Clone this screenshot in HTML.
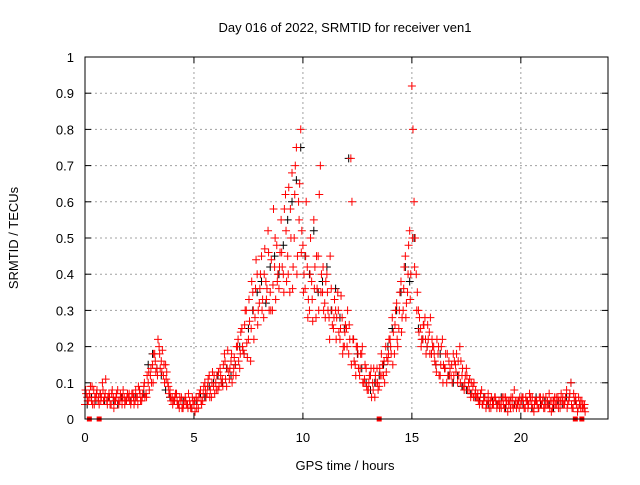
<!DOCTYPE html>
<html><head><meta charset="utf-8"><style>
body{margin:0;background:#fff}
svg text{font-family:"Liberation Sans",sans-serif;font-size:13px;fill:#000}
</style></head><body>
<svg id="c" width="640" height="480" xmlns="http://www.w3.org/2000/svg">
<rect width="640" height="480" fill="#fff"/>
<text x="345" y="32" text-anchor="middle">Day 016 of 2022, SRMTID for receiver ven1</text>
<text x="345" y="470" text-anchor="middle">GPS time / hours</text>
<text transform="translate(18,238) rotate(-90)" text-anchor="middle">SRMTID / TECUs</text>
<g id="grid"></g><g id="marks"></g>
<rect x="85" y="57" width="523" height="362" fill="none" stroke="#000" stroke-width="1"/>
</svg>
<script>
const xTicks=[0,5,10,15,20];
const yTicks=[0,0.1,0.2,0.3,0.4,0.5,0.6,0.7,0.8,0.9,1];
const yTickLabels=["0","0.1","0.2","0.3","0.4","0.5","0.6","0.7","0.8","0.9","1"];
const redA=[.04,.06,.07,.05,.08,.06,.05,.07,.10,.06,.05,.07,.04,.06,.05,.08,.05,.04,.06,.05,.06,.04,.07,.05,.06,.08,.05,.09,.07,.10,.12,.15,.18,.14,.20,.16,.12,.15,.10,.08,.06,.05,.07,.04,.05,.03,.06,.04,.05,.03,.04,.06,.03,.08,.05,.10,.07,.12,.06,.09,.10,.08,.14,.11,.18,.09,.13,.16,.12,.15,.20,.14,.25,.18,.30,.22,.16,.35,.28,.40,.32,.45,.28,.38,.52,.35,.30,.42,.48,.36,.55,.40,.62,.45,.35,.68,.50,.75,.60,.80,.48,.36,.42,.30,.38,.55,.28,.45,.70,.35,.32,.40,.28,.36,.25,.30,.35,.22,.28,.20,.25,.18,.72,.22,.15,.20,.12,.18,.10,.14,.08,.12,.10,.06,.14,.09,.18,.12,.20,.16,.22,.28,.18,.32,.25,.38,.30,.45,.35,.52,.92,.60,.40,.30,.25,.22,.28,.20,.24,.18,.20,.15,.18,.12,.22,.14,.10,.16,.12,.18,.15,.10,.20,.12,.08,.14,.10,.06,.09,.07,.06,.04,.08,.05,.03,.07,.05,.04,.06,.03,.05,.03,.04,.06,.02,.05,.04,.08,.03,.05,.04,.06,.03,.05,.07,.04,.02,.05,.03,.06,.05,.03,.04,.07,.02,.05,.04,.06,.03,.05,.04,.08,.05,.10,.03,.06,.02,.04,.05,.03];
const redB=[.07,.05,.09,.04,.06,.08,.04,.06,.05,.11,.06,.04,.08,.05,.07,.04,.06,.08,.05,.07,.05,.07,.04,.06,.09,.05,.07,.06,.12,.08,.10,.18,.13,.22,.14,.19,.10,.13,.07,.05,.05,.07,.04,.06,.03,.05,.04,.07,.03,.05,.02,.05,.07,.04,.09,.06,.11,.08,.13,.07,.12,.09,.10,.15,.11,.19,.14,.10,.17,.20,.16,.24,.19,.30,.17,.27,.38,.22,.44,.30,.40,.33,.47,.36,.30,.44,.58,.33,.40,.46,.42,.58,.38,.64,.50,.42,.70,.45,.65,.52,.40,.60,.33,.50,.27,.42,.36,.62,.40,.30,.38,.30,.45,.26,.33,.28,.24,.34,.20,.26,.30,.22,.60,.16,.20,.14,.18,.10,.15,.08,.12,.06,.14,.10,.08,.12,.15,.10,.17,.22,.18,.24,.30,.20,.35,.28,.42,.32,.48,.40,.80,.50,.35,.28,.22,.26,.18,.22,.28,.20,.16,.22,.12,.20,.15,.18,.12,.14,.10,.16,.18,.12,.16,.09,.12,.08,.11,.07,.10,.06,.05,.07,.04,.06,.05,.03,.06,.04,.05,.04,.04,.06,.03,.05,.04,.06,.03,.05,.04,.06,.06,.03,.05,.04,.06,.03,.05,.04,.06,.04,.03,.06,.04,.05,.03,.06,.04,.05,.07,.04,.06,.04,.07,.03,.05,.04,.06,.03,.04,.02];
const redC=[.08,.05,.06,.09,.04,.07,.06,.05,.08,.07,.04,.06,.07,.03,.06,.05,.07,.06,.04,.06,.07,.05,.06,.08,.04,.07,.06,.10,.06,.13,.14,.10,.16,.12,.18,.13,.15,.11,.09,.06,.04,.06,.05,.03,.06,.04,.05,.03,.04,.06,.05,.03,.06,.05,.07,.08,.09,.06,.10,.12,.08,.13,.12,.09,.16,.14,.11,.18,.14,.12,.22,.18,.20,.26,.21,.33,.25,.30,.36,.26,.36,.30,.40,.33,.46,.30,.37,.50,.38,.42,.46,.35,.52,.40,.58,.36,.62,.40,.55,.46,.35,.45,.28,.40,.33,.36,.45,.30,.35,.42,.28,.35,.22,.30,.28,.22,.30,.25,.18,.24,.20,.26,.15,.22,.12,.18,.14,.20,.11,.09,.10,.14,.08,.12,.10,.14,.12,.16,.13,.18,.20,.15,.26,.22,.30,.24,.36,.28,.40,.33,.50,.42,.30,.24,.20,.26,.22,.26,.18,.22,.18,.13,.20,.15,.10,.14,.18,.12,.15,.12,.13,.16,.10,.14,.10,.12,.08,.10,.06,.08,.07,.05,.04,.06,.04,.05,.03,.05,.06,.04,.03,.05,.06,.04,.05,.03,.06,.04,.05,.03,.05,.04,.06,.03,.05,.06,.04,.05,.03,.04,.06,.04,.05,.03,.05,.04,.06,.03,.05,.06,.05,.03,.06,.04,.07,.05,.03,.05,.03,.04];
const black=[.04,.06,.05,.07,.05,.06,.05,.04,.06,.05,.05,.06,.08,.07,.15,.18,.14,.12,.08,.06,.05,.04,.05,.04,.03,.05,.07,.06,.09,.10,.12,.10,.14,.12,.15,.20,.18,.25,.30,.35,.38,.32,.42,.45,.40,.48,.55,.60,.66,.75,.45,.40,.52,.35,.38,.42,.30,.36,.28,.25,.72,.22,.18,.14,.10,.08,.10,.12,.15,.20,.25,.30,.35,.42,.38,.50,.25,.22,.20,.18,.15,.18,.14,.12,.10,.12,.09,.08,.07,.06,.05,.06,.04,.05,.04,.06,.03,.05,.04,.05,.04,.05,.03,.06,.04,.05,.04,.03,.05,.04,.06,.10,.05,.04,.03];
const zeroMarks=[0.2,0.65,13.5,22.5,22.8];
const X=t=>85+t*(523/24), Y=v=>419-v*362;
const NS="http://www.w3.org/2000/svg";
const grid=document.getElementById('grid'), marks=document.getElementById('marks');
function mk(tag,a,p){const e=document.createElementNS(NS,tag);for(const k in a)e.setAttribute(k,a[k]);p.appendChild(e);return e;}
yTicks.forEach((v,i)=>{const y=Y(v);
 if(i>0&&i<yTicks.length-1){const g=mk('line',{x1:85,x2:608,y1:y,y2:y,stroke:'#a0a0a0','stroke-dasharray':'2,3','stroke-width':1},grid);
 
 }
 mk('line',{x1:85,x2:91,y1:y,y2:y,stroke:'#000'},grid);mk('line',{x1:602,x2:608,y1:y,y2:y,stroke:'#000'},grid);
 const t=mk('text',{x:74,y:y+5,'text-anchor':'end'},grid);t.textContent=yTickLabels[i];
 
 });
xTicks.forEach(v=>{const x=X(v);
 if(v>0){const g=mk('line',{x1:x,x2:x,y1:57,y2:419,stroke:'#a0a0a0','stroke-dasharray':'2,3'},grid);
 
 }
 mk('line',{x1:x,x2:x,y1:419,y2:413,stroke:'#000'},grid);mk('line',{x1:x,x2:x,y1:57,y2:63,stroke:'#000'},grid);
 const t=mk('text',{x:x,y:442,'text-anchor':'middle'},grid);t.textContent=String(v);
 
 });
function plus(t,v,col,name){const x=X(t),y=Y(v);
 const p=mk('path',{d:`M${x-4},${y}h8M${x},${y-4}v8`,stroke:col,'stroke-width':1,fill:'none'},marks);
 
 }
black.forEach((v,i)=>plus(i*0.2+0.1,v,'#000','black-point'));
redA.forEach((v,i)=>plus(i*0.1,v,'#f00','red-point'));
redB.forEach((v,i)=>plus(i*0.1+0.05,v,'#f00','red-point'));
redC.forEach((v,i)=>plus(i*0.1+0.025,v,'#f00','red-point'));
zeroMarks.forEach(t=>{const r=mk('rect',{x:X(t)-2.5,y:Y(0)-2.5,width:5,height:5,fill:'#f00'},marks);
 
 });
</script>
</body></html>
